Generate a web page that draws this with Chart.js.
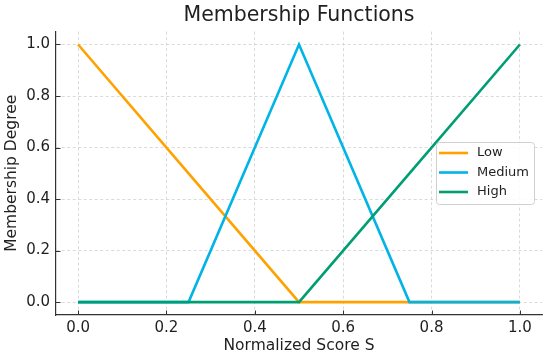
<!DOCTYPE html>
<html>
<head>
<meta charset="utf-8">
<script src="https://cdn.jsdelivr.net/npm/chart.js@4.4.0/dist/chart.umd.min.js"></script>
<style>
  html, body { margin: 0; padding: 0; background: #fff; }
</style>
</head>
<body>
<canvas id="chart" width="550" height="359"></canvas>
<script>
const scoreValues = [0, 0.25, 0.5, 0.75, 1];
const lowValues = [1, 0.5, 0, 0, 0];
const mediumValues = [0, 0, 1, 0, 0];
const highValues = [0, 0, 0, 0.5, 1];
const seriesNames = ['Low', 'Medium', 'High'];
const seriesColors = ['#ffa200', '#00b4e8', '#009e73'];
const xTicks = [0, 0.2, 0.4, 0.6, 0.8, 1];
const yTicks = [0, 0.2, 0.4, 0.6, 0.8, 1];

const FONT = 'DejaVu Sans';
const TEXT = '#1f1f1f';

const toPoints = (ys) => scoreValues.map((x, i) => ({ x: x, y: ys[i] }));

// matplotlib style ticks pointing into the plot
const innerTicks = {
    id: 'innerTicks',
    afterDraw(chart) {
        const { ctx, chartArea } = chart;
        const xs = chart.scales.x, ys = chart.scales.y;
        ctx.save();
        ctx.strokeStyle = '#333';
        ctx.lineWidth = 1;
        ctx.beginPath();
        xTicks.forEach((v) => {
            const px = Math.round(xs.getPixelForValue(v)) + 0.5;
            ctx.moveTo(px, chartArea.bottom);
            ctx.lineTo(px, chartArea.bottom - 4.5);
        });
        yTicks.forEach((v) => {
            const py = Math.round(ys.getPixelForValue(v)) + 0.5;
            ctx.moveTo(chartArea.left, py);
            ctx.lineTo(chartArea.left + 4.5, py);
        });
        ctx.stroke();
        ctx.restore();
    }
};

// legend box inside the plot, center right
const boxLegend = {
    id: 'boxLegend',
    afterDraw(chart) {
        const { ctx, chartArea } = chart;
        const w = 98, h = 62;
        const right = chartArea.right - 8;
        const left = right - w;
        const top = Math.round((chartArea.top + chartArea.bottom) / 2 - h / 2);
        ctx.save();
        ctx.beginPath();
        ctx.roundRect(left + 0.5, top + 0.5, w, h, 3);
        ctx.fillStyle = 'rgba(255,255,255,0.85)';
        ctx.fill();
        ctx.strokeStyle = '#d0d0d0';
        ctx.lineWidth = 1;
        ctx.stroke();
        ctx.font = '13px "' + FONT + '"';
        ctx.textBaseline = 'middle';
        ctx.fillStyle = TEXT;
        chart.data.datasets.forEach((ds, i) => {
            const cy = top + 11 + i * 19.5;
            ctx.beginPath();
            ctx.strokeStyle = ds.borderColor;
            ctx.lineWidth = 2.6;
            ctx.moveTo(left + 3, cy);
            ctx.lineTo(left + 32, cy);
            ctx.stroke();
            ctx.fillText(ds.label, left + 41, cy);
        });
        ctx.restore();
    }
};

const gridOpts = {
    color: '#d0d0d0',
    lineWidth: 0.8,
    drawTicks: false
};

new Chart(document.getElementById('chart'), {
    type: 'line',
    data: {
        datasets: [lowValues, mediumValues, highValues].map((vals, i) => ({
            label: seriesNames[i],
            data: toPoints(vals),
            borderColor: seriesColors[i],
            backgroundColor: seriesColors[i],
            borderWidth: 2.6,
            pointRadius: 0,
            tension: 0,
            fill: false,
            order: 3 - i
        }))
    },
    options: {
        responsive: false,
        animation: false,
        devicePixelRatio: 1,
        layout: { padding: { left: 0, right: 8, top: 0, bottom: 0 } },
        plugins: {
            legend: { display: false },
            tooltip: { enabled: false },
            title: {
                display: true,
                text: 'Membership Functions',
                fullSize: false,
                color: TEXT,
                font: { family: FONT, size: 20.5, weight: 'normal' },
                padding: { top: 3, bottom: 4 }
            }
        },
        scales: {
            x: {
                type: 'linear',
                min: -0.05,
                max: 1.05,
                afterBuildTicks: (s) => { s.ticks = xTicks.map((v) => ({ value: v })); },
                afterFit: (s) => { s.height = 44; },
                ticks: {
                    callback: (v) => Number(v).toFixed(1),
                    color: TEXT,
                    font: { family: FONT, size: 15 },
                    padding: 4,
                    maxRotation: 0
                },
                grid: gridOpts,
                border: { display: true, color: '#333', width: 1.2, dash: [3, 2.5] },
                title: {
                    display: true,
                    text: 'Normalized Score S',
                    color: TEXT,
                    font: { family: FONT, size: 15.5 },
                    padding: { top: 0, bottom: 4 }
                }
            },
            y: {
                type: 'linear',
                min: -0.05,
                max: 1.05,
                afterBuildTicks: (s) => { s.ticks = yTicks.map((v) => ({ value: v })); },
                afterFit: (s) => { s.width = 56; },
                ticks: {
                    callback: (v) => Number(v).toFixed(1),
                    color: TEXT,
                    font: { family: FONT, size: 15 },
                    padding: 6
                },
                grid: gridOpts,
                border: { display: true, color: '#333', width: 1.2, dash: [3, 2.5] },
                title: {
                    display: true,
                    text: 'Membership Degree',
                    color: TEXT,
                    font: { family: FONT, size: 15.5 },
                    padding: { top: 3, bottom: 0 }
                }
            }
        }
    },
    plugins: [innerTicks, boxLegend]
});
</script>
</body>
</html>
